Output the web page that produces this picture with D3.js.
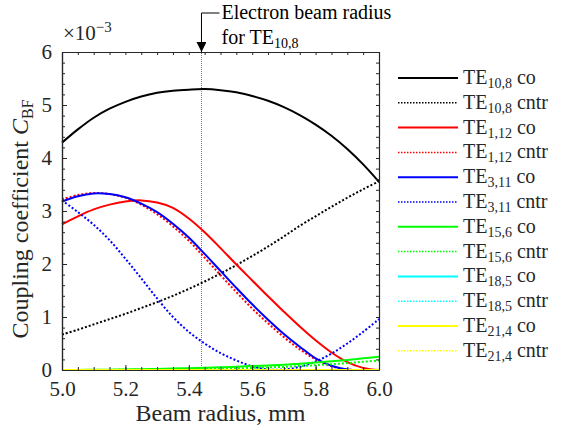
<!DOCTYPE html>
<html>
<head>
<meta charset="utf-8">
<script src="https://cdn.jsdelivr.net/npm/d3@7"></script>
<style>
	body { margin: 0; background: #fff; }
	text { font-family: 'Liberation Serif', 'DejaVu Serif', serif; }
</style>
</head>
<body>
<main></main>
<script>
// beam radius in mm
const radius = [5.0, 5.05, 5.1, 5.15, 5.2, 5.25, 5.3, 5.35, 5.4, 5.45, 5.5, 5.55, 5.6, 5.65, 5.7, 5.75, 5.8, 5.85, 5.9, 5.95, 6.0]

// coupling coefficient, x 10^-3
const te108co = [4.29, 4.54, 4.76, 4.93, 5.06, 5.16, 5.23, 5.27, 5.29, 5.30, 5.28, 5.24, 5.17, 5.08, 4.96, 4.81, 4.63, 4.42, 4.17, 3.88, 3.55]
const te108cntr = [0.67, 0.76, 0.86, 0.96, 1.06, 1.17, 1.28, 1.4, 1.53, 1.67, 1.82, 1.98, 2.15, 2.33, 2.52, 2.72, 2.9, 3.08, 3.25, 3.41, 3.56]
const te112co = [2.75, 2.9, 3.03, 3.12, 3.18, 3.2, 3.16, 3.06, 2.86, 2.6, 2.3, 1.99, 1.69, 1.39, 1.1, 0.82, 0.56, 0.33, 0.15, 0.04, 0.0]
const te112cntr = [3.22, 3.3, 3.34, 3.32, 3.25, 3.12, 2.94, 2.71, 2.44, 2.12, 1.79, 1.47, 1.16, 0.88, 0.62, 0.39, 0.2, 0.07, 0.01, 0.0, 0.0]
const te311co = [3.18, 3.28, 3.33, 3.32, 3.26, 3.14, 2.98, 2.76, 2.5, 2.19, 1.87, 1.55, 1.24, 0.95, 0.68, 0.44, 0.22, 0.08, 0.01, 0.0, 0.0]
const te311cntr = [3.2, 2.98, 2.74, 2.45, 2.1, 1.73, 1.35, 1.0, 0.72, 0.5, 0.32, 0.18, 0.07, 0.01, 0.01, 0.06, 0.16, 0.31, 0.5, 0.72, 0.96]
const te156co = [0.0, 0.002, 0.005, 0.007, 0.01, 0.015, 0.02, 0.027, 0.035, 0.042, 0.05, 0.062, 0.075, 0.087, 0.1, 0.12, 0.14, 0.165, 0.19, 0.22, 0.25]
const te156cntr = [0.0, 0.0, 0.0, 0.002, 0.004, 0.006, 0.008, 0.011, 0.015, 0.02, 0.025, 0.032, 0.04, 0.05, 0.06, 0.075, 0.09, 0.11, 0.13, 0.155, 0.18]
const te185co = radius.map(() => 0)
const te185cntr = radius.map(() => 0)
const te214co = radius.map(() => 0)
const te214cntr = radius.map(() => 0)

const modes = ['10,8', '10,8', '1,12', '1,12', '3,11', '3,11', '15,6', '15,6', '18,5', '18,5', '21,4', '21,4']
const kinds = ['co', 'cntr', 'co', 'cntr', 'co', 'cntr', 'co', 'cntr', 'co', 'cntr', 'co', 'cntr']
const colors = ['#000000', '#000000', '#ff0000', '#ff0000', '#0000ff', '#0000ff', '#00ff00', '#00ff00', '#00ffff', '#00ffff', '#ffff00', '#ffff00']
const seriesValues = [te108co, te108cntr, te112co, te112cntr, te311co, te311cntr, te156co, te156cntr, te185co, te185cntr, te214co, te214cntr]

const markerRadius = 5.44
const xTicks = [5.0, 5.2, 5.4, 5.6, 5.8, 6.0]
const yTicks = [0, 1, 2, 3, 4, 5, 6]

const width = 569
const height = 430
const margin = { left: 62, right: 190, top: 52, bottom: 60 }
const axisColor = '#262626'
const serif = "'Liberation Serif', 'DejaVu Serif', serif"

const svg = d3.select('main')
	.append('svg')
	.attr('width', width)
	.attr('height', height)
	.attr('font-family', serif)

const x = d3.scaleLinear()
	.domain([5, 6])
	.range([margin.left, width - margin.right])

const y = d3.scaleLinear()
	.domain([0, 6])
	.range([height - margin.bottom, margin.top])

const plot = svg.append('g')

// marker line for TE10,8 radius
plot.append('line')
	.attr('x1', x(markerRadius))
	.attr('x2', x(markerRadius))
	.attr('y1', y(0))
	.attr('y2', y(6))
	.attr('stroke', '#444')
	.attr('stroke-width', 0.7)
	.attr('stroke-dasharray', '1,1')

// curves
const line = d3.line()
	.x((d, i) => x(radius[i]))
	.y(d => y(d))
	.curve(d3.curveCatmullRom)

plot.selectAll('path.curve')
	.data(seriesValues)
	.enter()
	.append('path')
	.attr('class', 'curve')
	.attr('d', d => line(d))
	.attr('fill', 'none')
	.attr('stroke', (d, i) => colors[i])
	.attr('stroke-width', 2)
	.attr('stroke-dasharray', (d, i) => kinds[i] === 'cntr' ? '2,2' : null)

// axes
const minorX = d3.range(5, 6.0001, 0.05)
const minorY = d3.range(0, 6.0001, 0.2)

const styleAxis = g => {
	g.attr('font-family', serif)
	g.select('.domain').attr('stroke', axisColor).attr('stroke-width', 1.2)
	g.selectAll('.tick line').attr('stroke', axisColor)
	g.selectAll('.tick text')
		.attr('fill', axisColor)
		.attr('font-family', serif)
		.style('font-size', '21px')
}

svg.append('g')
	.attr('transform', `translate(0,${y(0)})`)
	.call(d3.axisBottom(x).tickValues(minorX).tickSizeInner(-3).tickSizeOuter(0).tickFormat(''))
	.call(styleAxis)

svg.append('g')
	.attr('transform', `translate(0,${y(0)})`)
	.call(d3.axisBottom(x).tickValues(xTicks).tickSizeInner(-5).tickSizeOuter(0).tickPadding(11).tickFormat(d3.format('.1f')))
	.call(styleAxis)

svg.append('g')
	.attr('transform', `translate(0,${y(6)})`)
	.call(d3.axisTop(x).tickValues(minorX).tickSizeInner(-3).tickSizeOuter(0).tickFormat(''))
	.call(styleAxis)

svg.append('g')
	.attr('transform', `translate(${x(5)},0)`)
	.call(d3.axisLeft(y).tickValues(minorY).tickSizeInner(-3).tickSizeOuter(0).tickFormat(''))
	.call(styleAxis)

svg.append('g')
	.attr('transform', `translate(${x(5)},0)`)
	.call(d3.axisLeft(y).tickValues(yTicks).tickSizeInner(-5).tickSizeOuter(0).tickPadding(10).tickFormat(d3.format('d')))
	.call(styleAxis)

svg.append('g')
	.attr('transform', `translate(${x(6)},0)`)
	.call(d3.axisRight(y).tickValues(minorY).tickSizeInner(-3).tickSizeOuter(0).tickFormat(''))
	.call(styleAxis)

// exponent label
const expo = svg.append('text')
	.attr('x', x(5) + 1)
	.attr('y', y(6) - 12)
	.attr('fill', axisColor)
	.style('font-size', '21px')
expo.append('tspan').text('×10')
expo.append('tspan').attr('dy', -8).style('font-size', '15px').text('−3')

// axis titles
svg.append('text')
	.attr('x', (x(5) + x(6)) / 2)
	.attr('y', height - 9)
	.attr('text-anchor', 'middle')
	.attr('fill', axisColor)
	.style('font-size', '24px')
	.text('Beam radius, mm')

const yTitle = svg.append('text')
	.attr('transform', `translate(28,${(y(0) + y(6)) / 2 + 8}) rotate(-90)`)
	.attr('text-anchor', 'middle')
	.attr('fill', axisColor)
	.style('font-size', '24px')
yTitle.append('tspan').text('Coupling coefficient ')
yTitle.append('tspan').style('font-style', 'italic').text('C')
yTitle.append('tspan').attr('dy', 5).style('font-size', '16px').text('BF')

// annotation
const arrowX = x(markerRadius)
svg.append('defs').append('marker')
	.attr('id', 'head')
	.attr('viewBox', '0 0 10 10')
	.attr('refX', 10)
	.attr('refY', 5)
	.attr('markerWidth', 10)
	.attr('markerHeight', 10)
	.attr('markerUnits', 'userSpaceOnUse')
	.attr('orient', 'auto')
	.append('path')
	.attr('d', 'M0,0 L10,5 L0,10 Z')
	.attr('fill', '#000')

svg.append('path')
	.attr('d', `M${arrowX + 18},13 H${arrowX} V${y(6)}`)
	.attr('fill', 'none')
	.attr('stroke', '#000')
	.attr('stroke-width', 1)
	.attr('marker-end', 'url(#head)')

svg.append('text')
	.attr('x', arrowX + 20)
	.attr('y', 19)
	.style('font-size', '20px')
	.text('Electron beam radius')

const ann2 = svg.append('text')
	.attr('x', arrowX + 20)
	.attr('y', 44)
	.style('font-size', '20px')
ann2.append('tspan').text('for TE')
ann2.append('tspan').attr('dy', 4).style('font-size', '14px').text('10,8')

// legend
const legend = svg.append('g')
	.attr('transform', 'translate(398,78)')

const rows = legend.selectAll('g')
	.data(modes)
	.enter()
	.append('g')
	.attr('transform', (d, i) => `translate(0,${i * 24.8})`)

rows.append('line')
	.attr('x1', 0)
	.attr('x2', 60)
	.attr('stroke', (d, i) => colors[i])
	.attr('stroke-width', (d, i) => kinds[i] === 'co' ? 2 : 1.5)
	.attr('stroke-dasharray', (d, i) => kinds[i] === 'cntr' ? '1.5,1.5' : null)

const labels = rows.append('text')
	.attr('x', 65)
	.attr('y', 6)
	.attr('fill', axisColor)
	.style('font-size', '20px')
labels.append('tspan').text('TE')
labels.append('tspan').attr('dy', 4).style('font-size', '14px').text(d => d)
labels.append('tspan').attr('dy', -4).text((d, i) => ' ' + kinds[i])
</script>
</body>
</html>
